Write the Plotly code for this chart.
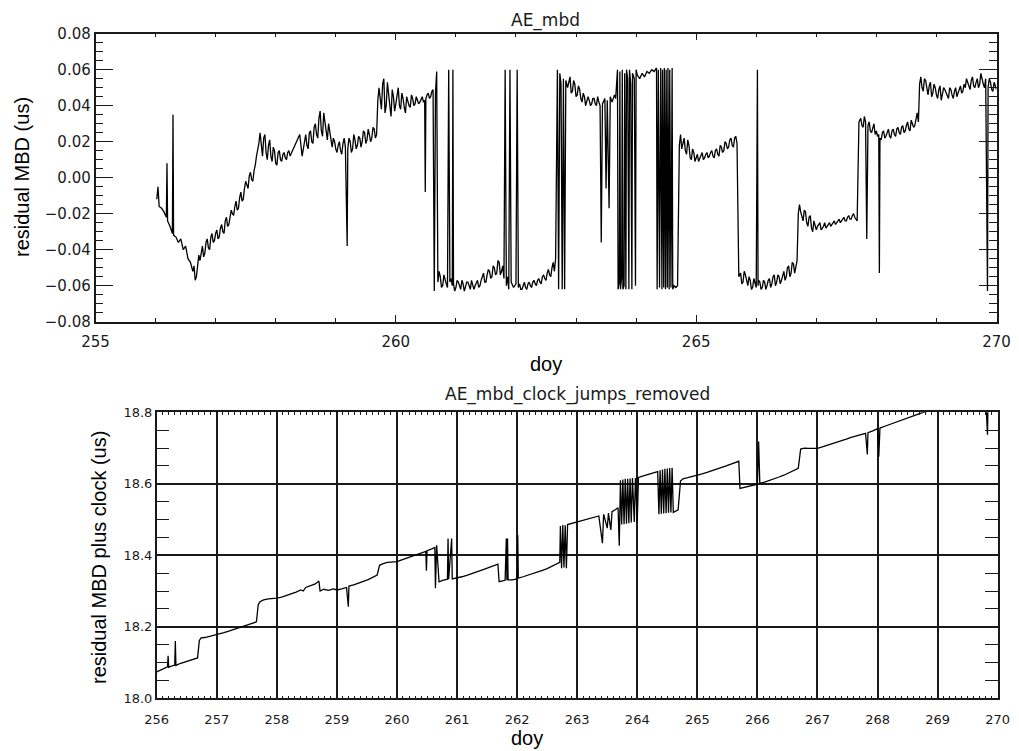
import plotly.graph_objects as go

# ---------------- data ----------------
top_doy = [
    256.02, 256.04, 256.06, 256.10, 256.14, 256.18, 256.19, 256.20, 256.24, 256.28,
    256.29, 256.30, 256.34, 256.38, 256.42, 256.46, 256.50, 256.54, 256.58, 256.62,
    256.64, 256.66, 256.68, 256.72, 256.76, 256.80, 256.84, 256.88, 256.92, 256.96,
    257.00, 257.04, 257.08, 257.12, 257.16, 257.20, 257.24, 257.28, 257.32, 257.36,
    257.40, 257.44, 257.48, 257.52, 257.56, 257.60, 257.64, 257.68, 257.72, 257.76,
    257.80, 257.84, 257.88, 257.92, 257.96, 258.00, 258.04, 258.08, 258.12, 258.16,
    258.20, 258.24, 258.40, 258.44, 258.48, 258.52, 258.56, 258.60, 258.64, 258.68,
    258.72, 258.76, 258.80, 258.84, 258.88, 258.92, 258.96, 259.00, 259.04, 259.08,
    259.12, 259.16, 259.19, 259.20, 259.24, 259.28, 259.32, 259.36, 259.40, 259.44,
    259.48, 259.52, 259.56, 259.60, 259.64, 259.68, 259.70, 259.72, 259.76, 259.80,
    259.84, 259.88, 259.92, 259.96, 260.00, 260.04, 260.08, 260.12, 260.16, 260.20,
    260.24, 260.28, 260.32, 260.36, 260.40, 260.44, 260.48, 260.49, 260.50, 260.54,
    260.58, 260.62, 260.64, 260.66, 260.68, 260.70, 260.74, 260.78, 260.82, 260.86,
    260.88, 260.90, 260.94, 260.95, 260.96, 261.00, 261.04, 261.08, 261.12, 261.16,
    261.20, 261.24, 261.28, 261.32, 261.36, 261.40, 261.44, 261.48, 261.52, 261.56,
    261.60, 261.64, 261.68, 261.72, 261.76, 261.80, 261.82, 261.84, 261.86, 261.88,
    261.90, 261.92, 261.96, 262.00, 262.02, 262.04, 262.08, 262.12, 262.16, 262.20,
    262.24, 262.28, 262.32, 262.36, 262.40, 262.44, 262.48, 262.52, 262.56, 262.60,
    262.64, 262.66, 262.69, 262.71, 262.73, 262.75, 262.77, 262.79, 262.81, 262.83,
    262.86, 262.90, 262.94, 262.98, 263.02, 263.06, 263.10, 263.14, 263.18, 263.22,
    263.26, 263.30, 263.34, 263.38, 263.42, 263.44, 263.48, 263.50, 263.52, 263.55,
    263.57, 263.60, 263.64, 263.66, 263.69, 263.70, 263.72, 263.73, 263.74, 263.76,
    263.77, 263.78, 263.80, 263.81, 263.83, 263.84, 263.86, 263.88, 263.89, 263.91,
    263.93, 263.94, 263.97, 263.99, 264.00, 264.02, 264.06, 264.10, 264.14, 264.18,
    264.22, 264.26, 264.30, 264.34, 264.35, 264.37, 264.39, 264.41, 264.43, 264.44,
    264.46, 264.47, 264.49, 264.50, 264.52, 264.53, 264.55, 264.56, 264.58, 264.60,
    264.61, 264.63, 264.66, 264.69, 264.72, 264.74, 264.76, 264.80, 264.84, 264.88,
    264.92, 264.96, 265.00, 265.04, 265.08, 265.12, 265.16, 265.20, 265.24, 265.28,
    265.32, 265.36, 265.40, 265.44, 265.48, 265.52, 265.56, 265.60, 265.64, 265.68,
    265.71, 265.74, 265.78, 265.82, 265.86, 265.90, 265.94, 265.98, 266.02, 266.03,
    266.06, 266.10, 266.14, 266.18, 266.22, 266.26, 266.30, 266.34, 266.38, 266.42,
    266.46, 266.50, 266.54, 266.58, 266.62, 266.66, 266.70, 266.72, 266.76, 266.80,
    266.84, 266.88, 266.92, 266.96, 267.00, 267.04, 267.08, 267.12, 267.16, 267.20,
    267.24, 267.28, 267.32, 267.36, 267.40, 267.44, 267.48, 267.52, 267.56, 267.60,
    267.64, 267.68, 267.71, 267.74, 267.78, 267.82, 267.84, 267.86, 267.90, 267.94,
    267.98, 268.02, 268.05, 268.06, 268.10, 268.14, 268.18, 268.22, 268.26, 268.30,
    268.34, 268.38, 268.42, 268.46, 268.50, 268.54, 268.58, 268.62, 268.66, 268.70,
    268.72, 268.74, 268.78, 268.82, 268.86, 268.90, 268.94, 268.98, 269.02, 269.06,
    269.10, 269.14, 269.18, 269.22, 269.26, 269.30, 269.34, 269.38, 269.42, 269.46,
    269.50, 269.54, 269.58, 269.62, 269.66, 269.70, 269.74, 269.78, 269.82, 269.85,
    269.86, 269.90, 269.94, 269.98, 270.00,
]
top_mbd = [
    -0.012, -0.005, -0.016, -0.017, -0.019, -0.022, 0.008, -0.024, -0.027, -0.031,
    0.035, -0.032, -0.033, -0.036, -0.034, -0.040, -0.038, -0.045, -0.047, -0.052,
    -0.049, -0.057, -0.055, -0.043, -0.041, -0.044, -0.036, -0.039, -0.033, -0.036,
    -0.031, -0.034, -0.028, -0.030, -0.024, -0.027, -0.022, -0.020, -0.016, -0.018,
    -0.011, -0.013, -0.006, -0.004, 0.001, -0.001, 0.004, 0.012, 0.019, 0.016,
    0.022, 0.014, 0.018, 0.012, 0.017, 0.008, 0.014, 0.010, 0.013, 0.011,
    0.014, 0.012, 0.024, 0.012, 0.022, 0.018, 0.025, 0.020, 0.028, 0.024,
    0.033, 0.026, 0.036, 0.024, 0.030, 0.020, 0.022, 0.016, 0.018, 0.015,
    0.019, 0.017, -0.038, 0.016, 0.020, 0.016, 0.021, 0.018, 0.022, 0.020,
    0.025, 0.021, 0.024, 0.022, 0.027, 0.024, 0.043, 0.050, 0.038, 0.055,
    0.040, 0.048, 0.034, 0.045, 0.041, 0.050, 0.038, 0.044, 0.036, 0.042,
    0.039, 0.044, 0.041, 0.043, 0.042, 0.045, 0.043, -0.008, 0.044, 0.047,
    0.045, 0.049, -0.063, 0.047, 0.059, -0.058, -0.055, -0.060, -0.057, -0.061,
    0.060, -0.058, -0.060, 0.060, -0.059, -0.061, -0.058, -0.062, -0.059, -0.061,
    -0.058, -0.062, -0.059, -0.060, -0.057, -0.060, -0.055, -0.058, -0.054, -0.052,
    -0.055, -0.050, -0.053, -0.047, -0.052, -0.056, 0.060, -0.060, -0.055, -0.062,
    0.060, -0.058, -0.061, -0.059, 0.060, -0.061, -0.062, -0.060, -0.061, -0.059,
    -0.060, -0.058, -0.059, -0.057, -0.058, -0.055, -0.056, -0.053, -0.054, -0.050,
    -0.052, -0.045, 0.060, -0.062, 0.058, 0.052, -0.062, 0.055, -0.062, 0.054,
    0.050, 0.056, 0.048, 0.052, 0.046, 0.049, 0.042, 0.045, 0.042, 0.043,
    0.041, 0.044, 0.040, 0.042, -0.036, 0.041, 0.044, -0.006, 0.043, -0.017,
    0.045, 0.042, 0.046, 0.044, 0.060, -0.062, -0.058, 0.059, -0.062, -0.055,
    0.060, -0.062, -0.060, 0.058, -0.062, 0.060, 0.055, -0.062, 0.060, 0.052,
    -0.062, 0.058, 0.055, -0.060, 0.060, 0.057, 0.055, 0.058, 0.056, 0.059,
    0.058, 0.060, 0.059, 0.061, -0.062, 0.060, -0.061, 0.061, -0.062, 0.060,
    -0.061, 0.061, -0.062, 0.060, -0.061, 0.061, -0.062, 0.060, -0.061, 0.061,
    -0.062, -0.060, -0.061, -0.060, 0.018, 0.024, 0.016, 0.022, 0.013, 0.018,
    0.010, 0.014, 0.011, 0.009, 0.012, 0.010, 0.013, 0.011, 0.014, 0.012,
    0.015, 0.013, 0.018, 0.014, 0.020, 0.016, 0.021, 0.018, 0.022, 0.019,
    -0.055, -0.053, -0.058, -0.054, -0.060, -0.057, -0.061, -0.058, 0.060, -0.060,
    -0.058, -0.061, -0.058, -0.060, -0.056, -0.059, -0.054, -0.058, -0.055, -0.057,
    -0.052, -0.055, -0.049, -0.053, -0.048, -0.050, -0.020, -0.015, -0.022, -0.018,
    -0.025, -0.022, -0.028, -0.024, -0.029, -0.026, -0.029, -0.027, -0.028, -0.026,
    -0.027, -0.025, -0.026, -0.024, -0.025, -0.023, -0.024, -0.022, -0.023, -0.021,
    -0.022, -0.024, 0.031, 0.033, 0.028, 0.031, -0.034, 0.029, 0.026, 0.028,
    0.024, 0.023, -0.053, 0.022, 0.025, 0.022, 0.025, 0.023, 0.026, 0.024,
    0.027, 0.025, 0.028, 0.025, 0.029, 0.027, 0.032, 0.028, 0.034, 0.031,
    0.052, 0.056, 0.048, 0.054, 0.046, 0.053, 0.047, 0.050, 0.044, 0.051,
    0.046, 0.049, 0.045, 0.050, 0.046, 0.048, 0.045, 0.049, 0.047, 0.052,
    0.055, 0.050, 0.054, 0.051, 0.053, 0.050, 0.058, 0.052, 0.055, -0.063,
    0.050, 0.053, 0.048, 0.051, 0.049,
]

# extra in-between readings of the noisy stretches of the top trace
top_doy_extra = [
    256.74, 256.78, 256.82, 256.86, 256.90, 256.94, 256.98, 257.02, 257.06, 257.10,
    257.14, 257.18, 257.22, 257.26, 257.30, 257.34, 257.38, 257.42, 257.46, 257.50,
    257.54, 257.58, 257.62, 257.66,
    257.74, 257.78, 257.82, 257.86, 257.90, 257.94, 257.98, 258.02, 258.06, 258.10,
    258.14, 258.18, 258.22,
    258.46, 258.50, 258.54, 258.58, 258.62, 258.66, 258.70, 258.74, 258.78, 258.82,
    258.86, 258.90, 258.94, 258.98, 259.02, 259.06, 259.10, 259.14,
    259.22, 259.26, 259.30, 259.34, 259.38, 259.42, 259.46, 259.50, 259.54, 259.58,
    259.62, 259.66,
    259.74, 259.78, 259.82, 259.86, 259.90, 259.94, 259.98, 260.02, 260.06, 260.10,
    260.14, 260.18, 260.22, 260.26, 260.30, 260.34, 260.38, 260.42, 260.46, 260.52,
    260.56, 260.60,
    260.72, 260.76, 260.80, 260.84, 260.92, 260.98, 261.02, 261.06, 261.10, 261.14,
    261.18, 261.22, 261.26, 261.30, 261.34, 261.38, 261.42, 261.46, 261.50, 261.54,
    261.58, 261.62, 261.66, 261.70, 261.74, 261.78,
    262.06, 262.10, 262.14, 262.18, 262.22, 262.26, 262.30, 262.34, 262.38, 262.42,
    262.46, 262.50, 262.54, 262.58, 262.62,
    262.88, 262.92, 262.96, 263.00, 263.04, 263.08, 263.12, 263.16, 263.20, 263.24,
    263.28, 263.32, 263.36, 263.40,
    264.78, 264.82, 264.86, 264.90, 264.94, 264.98, 265.02, 265.06, 265.10, 265.14,
    265.18, 265.22, 265.26, 265.30, 265.34, 265.38, 265.42, 265.46, 265.50, 265.54,
    265.58, 265.62, 265.66,
    265.76, 265.80, 265.84, 265.88, 265.92, 265.96, 266.00, 266.04, 266.08, 266.12,
    266.16, 266.20, 266.24, 266.28, 266.32, 266.36, 266.40, 266.44, 266.48, 266.52,
    266.56, 266.60, 266.64, 266.68,
    266.74, 266.78, 266.82, 266.86, 266.90, 266.94, 266.98, 267.02, 267.06, 267.10,
    267.14, 267.18, 267.22, 267.26, 267.30, 267.34, 267.38, 267.42, 267.46, 267.50,
    267.54, 267.58, 267.62, 267.66,
    267.76, 267.80, 267.88, 267.92, 267.96, 268.00, 268.04, 268.08, 268.12, 268.16,
    268.20, 268.24, 268.28, 268.32, 268.36, 268.40, 268.44, 268.48, 268.52, 268.56,
    268.60, 268.64, 268.68,
    268.76, 268.80, 268.84, 268.88, 268.92, 268.96, 269.00, 269.04, 269.08, 269.12,
    269.16, 269.20, 269.24, 269.28, 269.32, 269.36, 269.40, 269.44, 269.48, 269.52,
    269.56, 269.60, 269.64, 269.68, 269.72, 269.76, 269.80, 269.88, 269.92, 269.96,
]
top_mbd_extra = [
    -0.046, -0.038, -0.042, -0.034, -0.040, -0.031, -0.035, -0.029, -0.033, -0.026,
    -0.031, -0.022, -0.026, -0.018, -0.021, -0.013, -0.017, -0.008, -0.012, -0.002,
    -0.006, 0.003, -0.002, 0.007,
    0.025, 0.012, 0.024, 0.010, 0.021, 0.009, 0.015, 0.007, 0.015, 0.009,
    0.014, 0.010, 0.015,
    0.016, 0.024, 0.016, 0.026, 0.019, 0.030, 0.022, 0.037, 0.023, 0.031,
    0.021, 0.026, 0.017, 0.020, 0.014, 0.020, 0.013, 0.022,
    0.022, 0.014, 0.024, 0.016, 0.023, 0.017, 0.026, 0.019, 0.027, 0.020,
    0.028, 0.022,
    0.042, 0.052, 0.036, 0.053, 0.040, 0.049, 0.037, 0.046, 0.040, 0.047,
    0.039, 0.045, 0.040, 0.046, 0.040, 0.045, 0.041, 0.044, 0.042, 0.046,
    0.044, 0.048,
    -0.052, -0.061, -0.054, -0.059, -0.056, -0.063, -0.057, -0.060, -0.057, -0.063,
    -0.058, -0.060, -0.057, -0.062, -0.058, -0.061, -0.057, -0.053, -0.058, -0.051,
    -0.056, -0.049, -0.054, -0.046, -0.054, -0.049,
    -0.059, -0.062, -0.058, -0.062, -0.058, -0.061, -0.057, -0.060, -0.056, -0.059,
    -0.054, -0.057, -0.051, -0.055, -0.047,
    0.053, 0.047, 0.054, 0.045, 0.051, 0.044, 0.047, 0.040, 0.045, 0.040,
    0.044, 0.041, 0.045, 0.040,
    0.019, 0.015, 0.021, 0.011, 0.016, 0.009, 0.013, 0.011, 0.014, 0.011,
    0.014, 0.012, 0.015, 0.011, 0.016, 0.012, 0.017, 0.015, 0.019, 0.017,
    0.022, 0.017, 0.023,
    -0.059, -0.052, -0.058, -0.055, -0.062, -0.056, -0.061, -0.057, -0.062, -0.057,
    -0.062, -0.057, -0.061, -0.055, -0.060, -0.054, -0.059, -0.054, -0.057, -0.050,
    -0.055, -0.047, -0.053, -0.046,
    -0.019, -0.024, -0.019, -0.027, -0.021, -0.030, -0.026, -0.027, -0.025, -0.028,
    -0.025, -0.027, -0.025, -0.026, -0.024, -0.025, -0.023, -0.024, -0.022, -0.024,
    -0.021, -0.023, -0.020, -0.023,
    0.029, 0.034, 0.031, 0.025, 0.030, 0.026, 0.024, 0.021, 0.026, 0.023,
    0.027, 0.022, 0.027, 0.023, 0.028, 0.024, 0.029, 0.026, 0.031, 0.026,
    0.030, 0.029, 0.036,
    0.050, 0.055, 0.049, 0.051, 0.045, 0.052, 0.046, 0.049, 0.043, 0.050,
    0.047, 0.044, 0.049, 0.044, 0.050, 0.047, 0.051, 0.048, 0.050, 0.053,
    0.049, 0.056, 0.050, 0.055, 0.052, 0.054, 0.050, 0.055, 0.049, 0.053,
]

bot_doy = [
    256.00, 256.06, 256.12, 256.18, 256.19, 256.20, 256.26, 256.30, 256.31, 256.32,
    256.40, 256.48, 256.56, 256.64, 256.68, 256.71, 256.74, 256.80, 256.88, 256.96,
    257.04, 257.12, 257.20, 257.28, 257.36, 257.44, 257.52, 257.60, 257.66, 257.69,
    257.72, 257.78, 257.86, 257.94, 258.00, 258.08, 258.16, 258.24, 258.32, 258.40,
    258.44, 258.48, 258.56, 258.64, 258.70, 258.72, 258.78, 258.86, 258.94, 259.00,
    259.08, 259.16, 259.19, 259.20, 259.28, 259.36, 259.44, 259.52, 259.60, 259.67,
    259.71, 259.76, 259.84, 259.92, 260.00, 260.08, 260.16, 260.24, 260.32, 260.40,
    260.48, 260.49, 260.50, 260.58, 260.63, 260.64, 260.66, 260.70, 260.76, 260.84,
    260.85, 260.86, 260.91, 260.92, 261.00, 261.08, 261.16, 261.24, 261.32, 261.40,
    261.48, 261.56, 261.64, 261.68, 261.70, 261.76, 261.80, 261.82, 261.83, 261.84,
    261.85, 261.92, 262.00, 262.01, 262.02, 262.10, 262.18, 262.26, 262.34, 262.42,
    262.50, 262.58, 262.66, 262.71, 262.72, 262.74, 262.76, 262.78, 262.80, 262.82,
    262.84, 262.88, 262.96, 263.04, 263.12, 263.20, 263.28, 263.36, 263.42, 263.44,
    263.50, 263.52, 263.56, 263.58, 263.64, 263.68, 263.70, 263.72, 263.74, 263.76,
    263.78, 263.80, 263.82, 263.84, 263.86, 263.88, 263.90, 263.92, 263.95, 263.97,
    264.00, 264.02, 264.10, 264.18, 264.26, 264.34, 264.36, 264.38, 264.40, 264.42,
    264.44, 264.46, 264.48, 264.50, 264.52, 264.54, 264.56, 264.58, 264.60, 264.64,
    264.68, 264.72, 264.76, 264.84, 264.92, 265.00, 265.08, 265.16, 265.24, 265.32,
    265.40, 265.48, 265.56, 265.64, 265.69, 265.71, 265.78, 265.86, 265.94, 266.00,
    266.02, 266.04, 266.12, 266.20, 266.28, 266.36, 266.44, 266.52, 266.60, 266.68,
    266.72, 266.78, 266.86, 266.94, 267.00, 267.08, 267.16, 267.24, 267.32, 267.40,
    267.48, 267.56, 267.64, 267.72, 267.80, 267.83, 267.84, 267.92, 268.00, 268.02,
    268.04, 268.12, 268.20, 268.28, 268.36, 268.44, 268.52, 268.60, 268.68, 268.76,
    268.84, 268.92, 269.00, 269.20, 269.40, 269.60, 269.80, 269.83, 269.84, 270.00,
]
bot_mbd_clock = [
    18.074, 18.079, 18.083, 18.088, 18.119, 18.087, 18.091, 18.093, 18.160, 18.092,
    18.098, 18.102, 18.108, 18.110, 18.113, 18.162, 18.169, 18.170, 18.173, 18.177,
    18.180, 18.184, 18.188, 18.192, 18.197, 18.202, 18.206, 18.210, 18.214, 18.262,
    18.270, 18.275, 18.278, 18.279, 18.280, 18.283, 18.287, 18.292, 18.297, 18.303,
    18.300, 18.310, 18.315, 18.320, 18.328, 18.300, 18.305, 18.302, 18.306, 18.303,
    18.306, 18.310, 18.256, 18.314, 18.317, 18.321, 18.327, 18.332, 18.338, 18.345,
    18.372, 18.376, 18.380, 18.382, 18.382, 18.387, 18.392, 18.396, 18.401, 18.405,
    18.411, 18.357, 18.413, 18.418, 18.422, 18.308, 18.428, 18.326, 18.330, 18.333,
    18.447, 18.333, 18.447, 18.334, 18.336, 18.340, 18.344, 18.348, 18.353, 18.358,
    18.363, 18.367, 18.372, 18.375, 18.326, 18.328, 18.330, 18.447, 18.330, 18.447,
    18.331, 18.331, 18.334, 18.457, 18.336, 18.340, 18.344, 18.348, 18.353, 18.358,
    18.363, 18.369, 18.377, 18.380, 18.482, 18.364, 18.485, 18.366, 18.484, 18.364,
    18.486, 18.488, 18.491, 18.494, 18.498, 18.502, 18.506, 18.510, 18.434, 18.515,
    18.476, 18.518, 18.471, 18.522, 18.528, 18.533, 18.427, 18.610, 18.486, 18.612,
    18.487, 18.614, 18.488, 18.614, 18.490, 18.615, 18.492, 18.616, 18.493, 18.616,
    18.495, 18.618, 18.622, 18.626, 18.630, 18.634, 18.515, 18.638, 18.516, 18.640,
    18.517, 18.642, 18.518, 18.643, 18.519, 18.644, 18.520, 18.645, 18.520, 18.523,
    18.527, 18.608, 18.614, 18.617, 18.620, 18.624, 18.628, 18.632, 18.636, 18.640,
    18.645, 18.650, 18.655, 18.660, 18.663, 18.587, 18.590, 18.593, 18.596, 18.599,
    18.718, 18.601, 18.605, 18.609, 18.614, 18.619, 18.624, 18.630, 18.636, 18.643,
    18.697, 18.700, 18.699, 18.698, 18.699, 18.703, 18.707, 18.711, 18.715, 18.720,
    18.725, 18.730, 18.734, 18.738, 18.741, 18.682, 18.743, 18.748, 18.754, 18.676,
    18.756, 18.761, 18.766, 18.771, 18.776, 18.781, 18.786, 18.791, 18.796, 18.800,
    18.803, 18.807, 18.811, 18.820, 18.828, 18.836, 18.844, 18.737, 18.845, 18.850,
]

top_title = "AE_mbd"
bot_title = "AE_mbd_clock_jumps_removed"
top_ylabel = "residual MBD (us)"
bot_ylabel = "residual MBD plus clock (us)"
xlabel = "doy"

# merge the two sets of top-trace readings into one time-ordered series
_top = sorted(zip(top_doy + top_doy_extra, top_mbd + top_mbd_extra))
top_x = [p[0] for p in _top]
top_y = [p[1] for p in _top]

# ---------------- figure ----------------
# The page body has an 8 px default margin, so the figure is drawn 8 px in
# from the window's top-left corner; size and positions compensate for it.
OFF = 8
W, H = 1019 - OFF, 751 - OFF
INK = "#1a1a1a"
hershey = "DejaVu Sans"
helv = "Liberation Sans, Arial, sans-serif"

def px(x):
    return (x - OFF) / W

def py(y):
    return 1 - (y - OFF) / H

fig = go.Figure()
fig.add_trace(go.Scatter(x=top_x, y=top_y, mode="lines",
                         line=dict(color="black", width=1.3),
                         xaxis="x", yaxis="y", hoverinfo="skip"))
fig.add_trace(go.Scatter(x=bot_doy, y=bot_mbd_clock, mode="lines",
                         line=dict(color="black", width=1.3),
                         xaxis="x2", yaxis="y2", hoverinfo="skip"))

common = dict(showline=True, linecolor=INK, linewidth=1.5, mirror="ticks",
              ticks="inside", tickcolor=INK, tickwidth=1.2, zeroline=False,
              automargin=False)

fig.update_layout(
    width=W, height=H,
    margin=dict(l=0, r=0, t=0, b=0, autoexpand=False),
    paper_bgcolor="white", plot_bgcolor="white",
    showlegend=False,
    xaxis=dict(domain=[px(95.5), px(996.5)], anchor="y", range=[255, 270],
               tick0=255, dtick=5, ticklen=7, showgrid=False,
               tickfont=dict(family=hershey, size=15, color=INK),
               ticklabelstandoff=6,
               minor=dict(dtick=1, tick0=255, ticklen=4, ticks="inside",
                          tickcolor=INK, tickwidth=1, showgrid=False),
               **common),
    yaxis=dict(domain=[py(321.7), py(33.7)], anchor="x", range=[-0.08, 0.08],
               tick0=0, dtick=0.02, tickformat=".2f", ticklen=18, showgrid=False,
               tickfont=dict(family=hershey, size=15, color=INK),
               minor=dict(dtick=0.005, tick0=0, ticklen=8, ticks="inside",
                          tickcolor=INK, tickwidth=1, showgrid=False),
               **common),
    xaxis2=dict(domain=[px(156.7), px(997.7)], anchor="y2", range=[256, 270],
                tick0=256, dtick=1, ticklen=0, showgrid=True,
                gridcolor=INK, gridwidth=1.5,
                tickfont=dict(family=hershey, size=13, color=INK),
                ticklabelstandoff=8,
                minor=dict(dtick=0.1, tick0=256, ticklen=3, ticks="inside",
                           tickcolor=INK, tickwidth=1, showgrid=False),
                **common),
    yaxis2=dict(domain=[py(698.3), py(412.3)], anchor="x2", range=[18.0, 18.8],
                tick0=18.0, dtick=0.2, tickformat=".1f", ticklen=0, showgrid=True,
                gridcolor=INK, gridwidth=1.5,
                tickfont=dict(family=hershey, size=13, color=INK),
                minor=dict(dtick=0.05, tick0=18.0, ticklen=13, ticks="inside",
                           tickcolor=INK, tickwidth=1.2, showgrid=False),
                **common),
)

ann = [
    dict(text=top_title, x=px(545), y=py(20), font=dict(family=hershey, size=17, color=INK)),
    dict(text=bot_title, x=px(577), y=py(395), font=dict(family=hershey, size=17, color=INK)),
    dict(text=top_ylabel, x=px(22), y=py(177), textangle=-90, font=dict(family=helv, size=20, color="black")),
    dict(text=bot_ylabel, x=px(99), y=py(558), textangle=-90, font=dict(family=helv, size=20, color="black")),
    dict(text=xlabel, x=px(546), y=py(364), font=dict(family=helv, size=20, color="black")),
    dict(text=xlabel, x=px(527), y=py(738), font=dict(family=helv, size=20, color="black")),
]
for a in ann:
    fig.add_annotation(xref="paper", yref="paper", showarrow=False,
                       xanchor="center", yanchor="middle", **a)

fig.write_html("out.html")
